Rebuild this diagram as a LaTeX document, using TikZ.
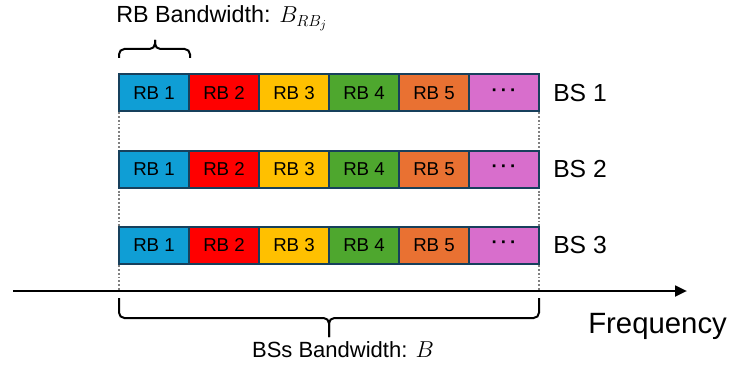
\documentclass[tikz,border=0pt]{standalone}
\usepackage{fontspec}
\setmainfont{Liberation Sans}
\usetikzlibrary{arrows.meta, positioning}

\definecolor{rbblue}{HTML}{0F9ED5}
\definecolor{rbred}{HTML}{FF0000}
\definecolor{rbyellow}{HTML}{FFC000}
\definecolor{rbgreen}{HTML}{4EA72E}
\definecolor{rborange}{HTML}{E97132}
\definecolor{rbpink}{HTML}{D86ECC}
\definecolor{rbedge}{HTML}{17405C}

\newcommand{\rbdots}{\textbf{\textperiodcentered\,\textperiodcentered\,\textperiodcentered}}

\begin{document}
\begin{tikzpicture}[
    x=0.75pt, y=-0.75pt,
    >={Triangle[length=9pt, width=8pt]},
    rb/.style={draw=rbedge, line width=1.5pt, minimum width=52.5pt,
      minimum height=27.75pt, inner sep=0pt, font=\fontsize{14}{16}\selectfont},
    bs/.style={anchor=west, inner sep=0pt, font=\fontsize{18.5}{20}\selectfont},
    brace/.style={line width=1.5pt, rounded corners=4pt},
    guide/.style={gray, line width=1.3pt, dash pattern=on 1.4pt off 1.4pt}
  ]
  \useasboundingbox (0,0) rectangle (741,367);

  % Guides
  \coordinate (gl) at (119,75);
  \coordinate (gr) at (539,75);
  \coordinate (ax0) at (13,291);
  \coordinate (ax1) at (687,291);
  \draw[guide] (gl) -- (gl |- ax0);
  \draw[guide] (gr) -- (gr |- ax0);

  % Resource blocks
  \foreach \r/\y in {1/93, 2/169, 3/245} {
    \foreach \c/\col/\txt in {1/rbblue/RB 1, 2/rbred/RB 2, 3/rbyellow/RB 3,
        4/rbgreen/RB 4, 5/rborange/RB 5, 6/rbpink/\rbdots}
      \node[rb, fill=\col] (r\r-\c) at (84+70*\c, \y) {\txt};
    \node[bs] (bs\r) at (553, \y) {BS \r};
  }

  % RB bandwidth
  \coordinate (tl) at (119,58);
  \coordinate (tr) at (190,58);
  \coordinate (ttip) at (155,40);
  \draw[brace] (tl) -- (119,49) -- (155,49) -- (ttip);
  \draw[brace] (ttip) -- (155,49) -- (190,49) -- (tr);
  \node[anchor=base west, inner sep=0pt, font=\fontsize{17.5}{20}\selectfont]
    (rbbw) at (116,23) {RB Bandwidth: $B_{RB_j}$};

  % Frequency axis
  \draw[->, line width=2pt] (ax0) -- (ax1);
  \node[anchor=base west, inner sep=0pt, font=\fontsize{22}{24}\selectfont]
    (freq) at (588,333) {Frequency};

  % BSs bandwidth
  \coordinate (bl) at (119,298);
  \coordinate (br) at (539,298);
  \coordinate (btip) at (329,337);
  \draw[brace] (bl) -- (119,318) -- (329,318) -- (btip);
  \draw[brace] (btip) -- (329,318) -- (539,318) -- (br);
  \node[anchor=base, inner sep=0pt, font=\fontsize{16.5}{20}\selectfont]
    (bsbw) at (343,357) {BSs Bandwidth: $B$};
\end{tikzpicture}
\end{document}
